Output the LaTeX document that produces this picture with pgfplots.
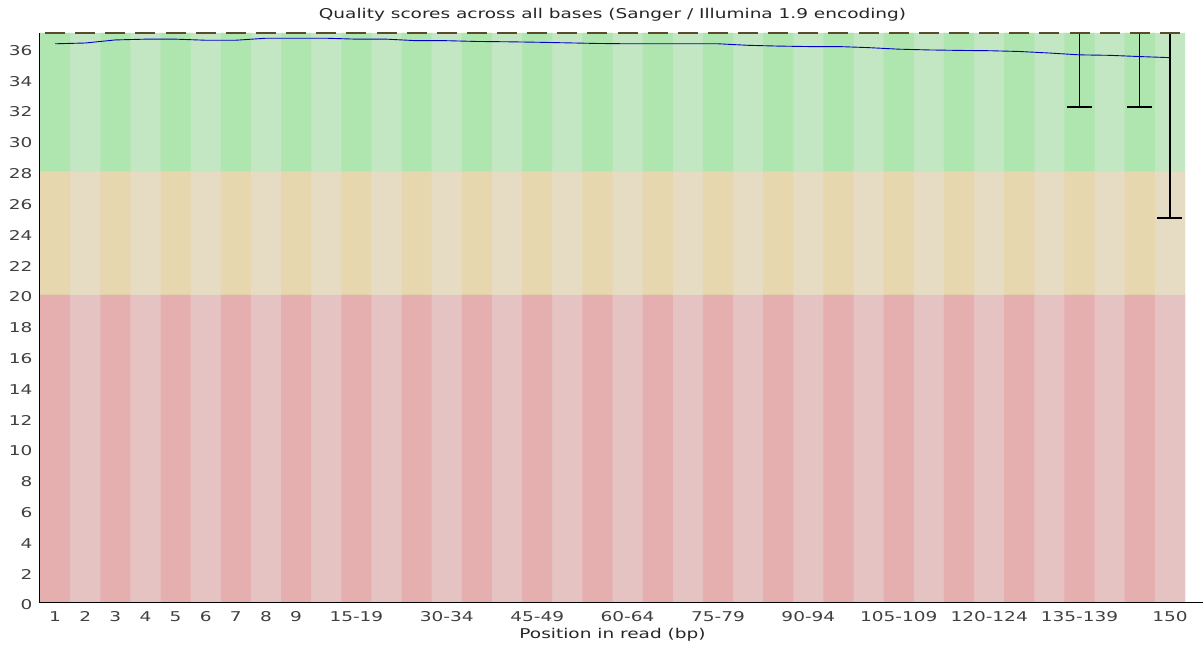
\documentclass[border=0pt]{standalone}
\usepackage{fontspec}
\setmainfont{DejaVu Sans}[FakeStretch=1.37]
\usepackage{pgfplots}
\usepackage{pgfplotstable}
\pgfplotsset{compat=1.18}
\definecolor{goodL}{RGB}{195,230,195}
\definecolor{goodD}{RGB}{175,230,175}
\definecolor{badL}{RGB}{230,220,195}
\definecolor{badD}{RGB}{230,215,175}
\definecolor{uglyL}{RGB}{230,195,195}
\definecolor{uglyD}{RGB}{230,175,175}
\definecolor{meanc}{RGB}{0,0,200}
\definecolor{boxc}{RGB}{90,75,45}
\pgfplotstableread{
x mean
0 36.30
1 36.35
2 36.55
3 36.60
4 36.60
5 36.53
6 36.53
7 36.66
8 36.66
9 36.66
10 36.60
11 36.60
12 36.50
13 36.50
14 36.45
15 36.43
16 36.40
17 36.36
18 36.32
19 36.30
20 36.30
21 36.30
22 36.30
23 36.20
24 36.15
25 36.12
26 36.12
27 36.05
28 35.95
29 35.90
30 35.87
31 35.85
32 35.80
33 35.70
34 35.58
35 35.55
36 35.47
37 35.40
}\meantable
\begin{document}
\fontsize{13.5pt}{15pt}\selectfont
\begin{tikzpicture}
\begin{axis}[
  scale only axis, width=1145pt, height=570pt,
  at={(0,0)}, anchor=south west,
  xmin=-0.5, xmax=37.5, ymin=0, ymax=37,
  axis x line*=bottom, axis y line*=left,
  axis line style={-, black, line width=1pt},
  major tick length=0pt,
  ytick={0,2,...,36},
  xtick={0,1,2,3,4,5,6,7,8,10,13,16,19,22,25,28,31,34,37},
  xticklabels={1,2,3,4,5,6,7,8,9,15-19,30-34,45-49,60-64,75-79,90-94,105-109,120-124,135-139,150},
  /pgf/number format/assume math mode=true,
  ticklabel style={font=\fontsize{13.5pt}{15pt}\selectfont, text=black!75},
  yticklabel style={xshift=-3pt, yshift=-2pt},
  xticklabel style={yshift=-4pt},
  title={Quality scores across all bases (Sanger / Illumina 1.9 encoding)},
  title style={font=\fontsize{13.5pt}{15pt}\selectfont, text=black!85, at={(0.5,1)}, anchor=south, yshift=1pt},
  xlabel={Position in read (bp)},
  xlabel style={font=\fontsize{13.5pt}{15pt}\selectfont, text=black!85, yshift=3pt},
  clip=false,
  axis on top,
]
% green band
\addplot[ybar, bar width=30.13pt, bar shift=0pt, fill=goodL, draw=none] table[x=x, y expr=37] {\meantable};
\addplot[ybar, bar width=30.13pt, bar shift=0pt, fill=goodD, draw=none] coordinates {(0,37)(2,37)(4,37)(6,37)(8,37)(10,37)(12,37)(14,37)(16,37)(18,37)(20,37)(22,37)(24,37)(26,37)(28,37)(30,37)(32,37)(34,37)(36,37)};
% orange band
\addplot[ybar, bar width=30.13pt, bar shift=0pt, fill=badL, draw=none] table[x=x, y expr=28] {\meantable};
\addplot[ybar, bar width=30.13pt, bar shift=0pt, fill=badD, draw=none] coordinates {(0,28)(2,28)(4,28)(6,28)(8,28)(10,28)(12,28)(14,28)(16,28)(18,28)(20,28)(22,28)(24,28)(26,28)(28,28)(30,28)(32,28)(34,28)(36,28)};
% red band
\addplot[ybar, bar width=30.13pt, bar shift=0pt, fill=uglyL, draw=none] table[x=x, y expr=20] {\meantable};
\addplot[ybar, bar width=30.13pt, bar shift=0pt, fill=uglyD, draw=none] coordinates {(0,20)(2,20)(4,20)(6,20)(8,20)(10,20)(12,20)(14,20)(16,20)(18,20)(20,20)(22,20)(24,20)(26,20)(28,20)(30,20)(32,20)(34,20)(36,20)};
% collapsed boxes at 37
\addplot[only marks, mark=-, mark size=10pt, mark options={line width=1.4pt, draw=boxc}] table[x=x, y expr=37] {\meantable};
% whiskers
\addplot[draw=none, mark=none,
  error bars/.cd, y dir=minus, y explicit,
  error bar style={line width=1.3pt, black},
  error mark options={rotate=90, mark size=12.5pt, line width=1.3pt, black}]
  coordinates {(34,37) -= (0,4.8) (36,37) -= (0,4.8) (37,37) -= (0,12.0)};
% mean line
\addplot[meanc, line width=0.9pt, mark=none] table[x=x, y=mean] {\meantable};
\draw[black, line width=1pt] (rel axis cs:1,0) -- ++(15pt,0);
\end{axis}
\pgfresetboundingbox
\path[use as bounding box] (-40pt,-44pt) rectangle (1163pt,603pt);
\end{tikzpicture}
\end{document}
